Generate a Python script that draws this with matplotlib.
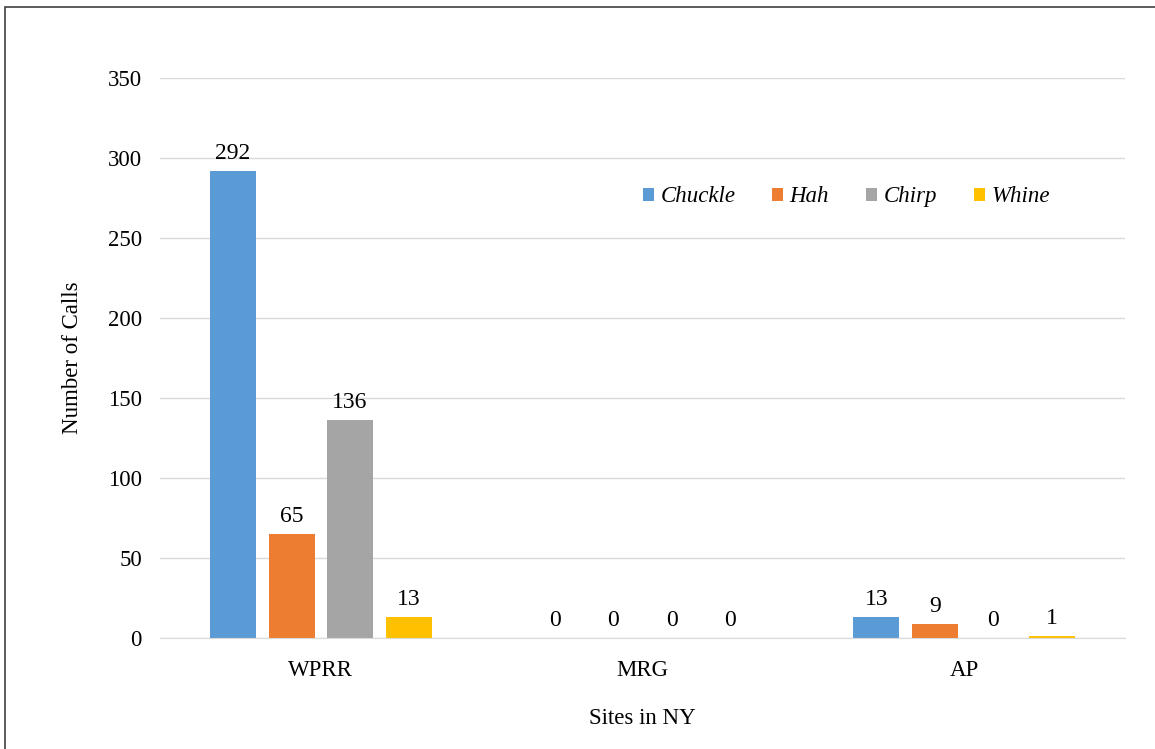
import matplotlib.pyplot as plt
import numpy as np
from matplotlib.patches import Rectangle

plt.rcParams['font.family'] = ['Liberation Serif', 'DejaVu Serif']

sites = ['WPRR', 'MRG', 'AP']
call_types = ['Chuckle', 'Hah', 'Chirp', 'Whine']
chuckle = [292, 0, 13]
hah = [65, 0, 9]
chirp = [136, 0, 0]
whine = [13, 0, 1]
colors = ['#5B9BD5', '#ED7D31', '#A5A5A5', '#FFC000']
y_ticks = [0, 50, 100, 150, 200, 250, 300, 350]

series = [chuckle, hah, chirp, whine]
FS = 16.5

fig = plt.figure(figsize=(11.55, 7.49), dpi=100)
ax = fig.add_axes([160 / 1155, 1 - 638 / 749, 965 / 1155, 560 / 749])

x = np.arange(len(sites))
width = 0.143
step = 0.182
offsets = (np.arange(len(series)) - 1.5) * step

for vals, name, col, off in zip(series, call_types, colors, offsets):
    bars = ax.bar(x + off, vals, width, color=col, label=name, zorder=3)
    ax.bar_label(bars, labels=[str(v) for v in vals], padding=5, fontsize=17)

ax.set_xlim(-0.5, 2.5)
ax.set_ylim(0, 350)
ax.set_yticks(y_ticks)
ax.set_xticks(x)
ax.set_xticklabels(sites)
ax.tick_params(axis='both', length=0, labelsize=FS, colors='#000000')
ax.tick_params(axis='y', pad=13)
ax.tick_params(axis='x', pad=16)
ax.grid(axis='y', color='#D9D9D9', linewidth=1, zorder=0)
for side in ['top', 'right', 'left']:
    ax.spines[side].set_visible(False)
ax.spines['bottom'].set_color('#D9D9D9')
ax.spines['bottom'].set_zorder(4)

ax.set_ylabel('Number of Calls', fontsize=FS, labelpad=18)
ax.set_xlabel('Sites in NY', fontsize=FS, labelpad=19)

leg = ax.legend(loc='center', bbox_to_anchor=(0.711, 0.788), ncol=4, frameon=False,
                prop={'style': 'italic', 'size': FS}, handlelength=0.5, handleheight=0.5,
                handletextpad=0.27, columnspacing=1.6)

fig.patches.append(Rectangle((5 / 1155, -0.5), 2, 0.5 + 1 - 7 / 749,
                             transform=fig.transFigure, fill=False,
                             edgecolor='#404040', linewidth=1.2))

fig.savefig('out.png', dpi=100)
